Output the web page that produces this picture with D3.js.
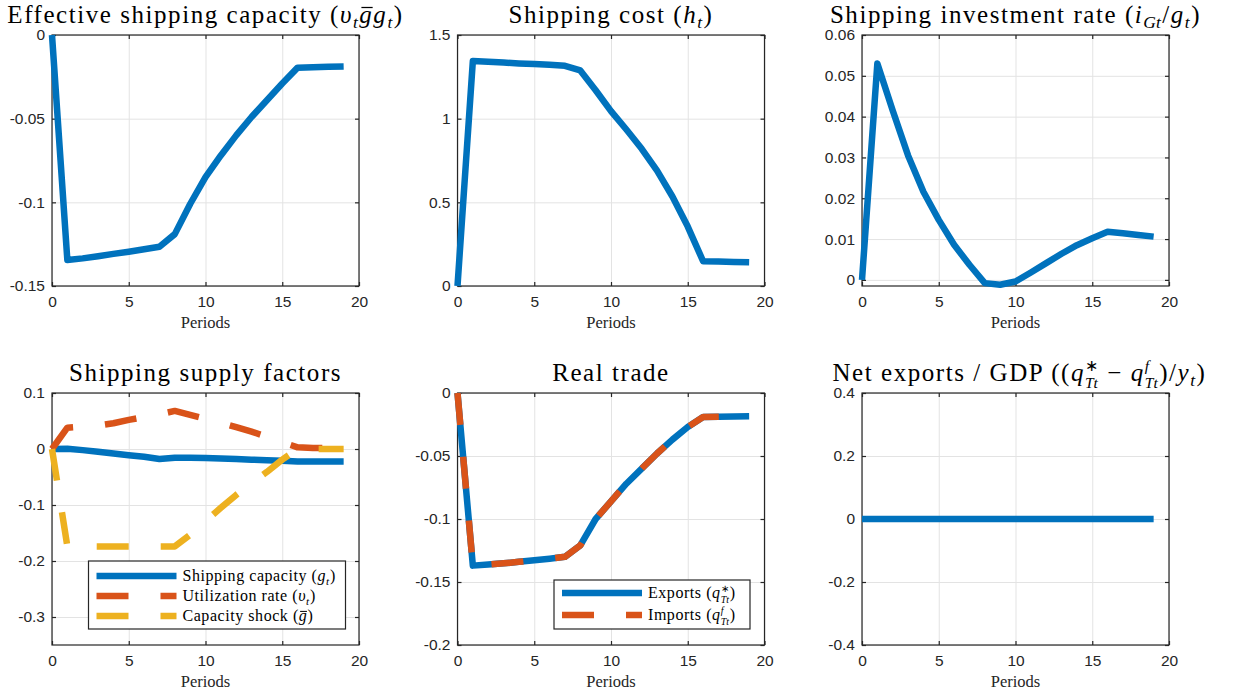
<!DOCTYPE html>
<html><head><meta charset="utf-8">
<script src="https://cdn.jsdelivr.net/npm/d3@7"></script>
<style>body{margin:0;background:#fff} svg{display:block} text{white-space:pre}</style>
</head><body>
<svg id="c" width="1233" height="696"></svg>
<script>
// ---------- data ----------
const periods = [0,1,2,3,4,5,6,7,8,9,10,11,12,13,14,15,16,17,18,19];
const xTicks = [0,5,10,15,20];

const effCapacity = [0,-0.1345,-0.1335,-0.1322,-0.1308,-0.1295,-0.128,-0.1265,-0.119,-0.101,-0.085,-0.072,-0.060,-0.049,-0.039,-0.029,-0.0195,-0.0193,-0.019,-0.0188];
const shippingCost = [0,1.345,1.34,1.335,1.33,1.326,1.322,1.316,1.288,1.17,1.045,0.935,0.82,0.69,0.535,0.355,0.148,0.146,0.144,0.142];
const investRate = [0,0.053,0.0415,0.0305,0.0216,0.0147,0.0086,0.0037,-0.0008,-0.0012,-0.0004,0.0018,0.0041,0.0064,0.0085,0.0102,0.0118,0.0114,0.011,0.0106];
const capacityG = [0,0.0005,-0.002,-0.005,-0.008,-0.011,-0.014,-0.018,-0.0155,-0.0155,-0.016,-0.017,-0.018,-0.019,-0.020,-0.021,-0.0225,-0.0225,-0.0225,-0.0225];
const utilization = [0,0.038,0.040,0.042,0.046,0.052,0.057,0.062,0.068,0.061,0.054,0.047,0.039,0.031,0.022,0.012,0.003,0.002,0.0015,0.001];
const capacityShock = [0,-0.174,-0.174,-0.174,-0.174,-0.174,-0.174,-0.174,-0.174,-0.153,-0.129,-0.105,-0.082,-0.061,-0.041,-0.019,0,0,0,0];
const exportsQ = [0,-0.137,-0.1362,-0.1352,-0.134,-0.1328,-0.1315,-0.130,-0.121,-0.100,-0.086,-0.072,-0.060,-0.048,-0.037,-0.027,-0.019,-0.0188,-0.0186,-0.0185];
const importsQ = [0,-0.137,-0.1362,-0.1352,-0.134,-0.1328,-0.1315,-0.130,-0.121,-0.100,-0.086,-0.072,-0.060,-0.048,-0.037,-0.027,-0.019,-0.0188,-0.0186,-0.0185];
const netExports = [0,0,0,0,0,0,0,0,0,0,0,0,0,0,0,0,0,0,0,0];

const yTicks1 = [-0.15,-0.1,-0.05,0];
const yTicks2 = [0,0.5,1,1.5];
const yTicks3 = [0,0.01,0.02,0.03,0.04,0.05,0.06];
const yTicks4 = [-0.3,-0.2,-0.1,0,0.1];
const yTicks5 = [-0.2,-0.15,-0.1,-0.05,0];
const yTicks6 = [-0.4,-0.2,0,0.2,0.4];

const BLUE = "#0072BD", ORANGE = "#D95319", YELLOW = "#EDB120";
const SERIF = "'Liberation Serif', 'Times New Roman', serif";
const SANS = "'Liberation Sans', Arial, Helvetica, sans-serif";

// ---------- helpers ----------
const svg = d3.select("#c");

function mathText(parent, segs, x, y, size, anchor, ls) {
  const g = parent.append("g").style("font-family", SERIF).attr("fill", "#000");
  let cx = 0;
  const lsp = ls || 0;
  segs.forEach(s => {
    if (s.sup !== undefined || s.sub !== undefined) {
      const both = s.sup !== undefined && s.sub !== undefined;
      const fs = size * (both ? 0.62 : 0.7);
      let w = 0;
      if (s.sup !== undefined) {
        const t = g.append("text").attr("x", cx).attr("y", -size * 0.40)
          .style("font-size", fs + "px").style("font-style", s.supIt ? "italic" : "normal").text(s.sup);
        w = Math.max(w, t.node().getComputedTextLength());
      }
      if (s.sub !== undefined) {
        const t = g.append("text").attr("x", cx).attr("y", size * (both ? 0.30 : 0.22))
          .style("font-size", fs + "px").style("font-style", "italic").text(s.sub);
        w = Math.max(w, t.node().getComputedTextLength());
      }
      cx += w + size * 0.06;
    } else {
      const t = g.append("text").attr("x", cx).attr("y", 0)
        .style("font-size", size + "px").style("letter-spacing", lsp + "px")
        .style("font-style", s.it ? "italic" : "normal").text(s.t);
      const w = t.node().getComputedTextLength();
      if (s.over) {
        g.append("line").attr("x1", cx + w * 0.15).attr("x2", cx + w * 0.95)
          .attr("y1", -size * 0.6).attr("y2", -size * 0.6)
          .attr("stroke", "#000").attr("stroke-width", Math.max(1, size * 0.05));
      }
      cx += w;
    }
  });
  const shift = anchor === "middle" ? -cx / 2 : 0;
  g.attr("transform", `translate(${x + shift},${y})`);
  return g;
}

const fmt = d => (+d.toFixed(4)).toString();

const cols = [52, 457.5, 862];
const W = 307;
const rows = [{top: 35, bottom: 286}, {top: 393, bottom: 645}];

function panel(cfg) {
  const left = cols[cfg.col], right = left + W;
  const top = rows[cfg.row].top, bottom = rows[cfg.row].bottom;
  const x = d3.scaleLinear().domain([0, 20]).range([left, right]);
  const y = d3.scaleLinear().domain(cfg.yDomain).range([bottom, top]);
  const g = svg.append("g");

  // grid
  g.append("g").attr("transform", `translate(0,${bottom})`)
    .call(d3.axisBottom(x).tickValues(xTicks).tickSize(-(bottom - top)).tickFormat(""))
    .call(a => a.select(".domain").remove())
    .call(a => a.selectAll("line").attr("stroke", "#e3e3e3").attr("stroke-width", 1));
  g.append("g").attr("transform", `translate(${left},0)`)
    .call(d3.axisLeft(y).tickValues(cfg.yTicks).tickSize(-(right - left)).tickFormat(""))
    .call(a => a.select(".domain").remove())
    .call(a => a.selectAll("line").attr("stroke", "#e3e3e3").attr("stroke-width", 1));

  // box
  g.append("rect").attr("x", left).attr("y", top).attr("width", right - left).attr("height", bottom - top)
    .attr("fill", "none").attr("stroke", "#262626").attr("stroke-width", 1.2);

  // ticks + labels
  const styleAx = a => {
    a.select(".domain").remove();
    a.selectAll("line").attr("stroke", "#262626").attr("stroke-width", 1.2);
    a.selectAll("text").attr("fill", "#262626").style("font-family", SANS).style("font-size", "15.5px");
  };
  g.append("g").attr("transform", `translate(0,${bottom})`)
    .call(d3.axisBottom(x).tickValues(xTicks).tickSize(-4).tickPadding(10).tickFormat(fmt)).call(styleAx);
  g.append("g").attr("transform", `translate(0,${top})`)
    .call(d3.axisTop(x).tickValues(xTicks).tickSize(-4).tickFormat("")).call(styleAx);
  g.append("g").attr("transform", `translate(${left},0)`)
    .call(d3.axisLeft(y).tickValues(cfg.yTicks).tickSize(-4).tickPadding(7).tickFormat(fmt)).call(styleAx);
  g.append("g").attr("transform", `translate(${right},0)`)
    .call(d3.axisRight(y).tickValues(cfg.yTicks).tickSize(-4).tickFormat("")).call(styleAx);

  // series
  cfg.series.forEach(s => {
    const line = d3.line().x((d, i) => x(periods[i])).y(d => y(d));
    g.append("path").datum(s.vals).attr("d", line)
      .attr("fill", "none").attr("stroke", s.color).attr("stroke-width", 6.5)
      .attr("stroke-linejoin", "round").attr("stroke-linecap", "butt")
      .attr("stroke-dasharray", s.dash ? "32,32" : null);
  });

  // x label
  g.append("text").attr("x", (left + right) / 2).attr("y", bottom + 42).attr("text-anchor", "middle")
    .style("font-family", SERIF).style("font-size", "16.5px").attr("fill", "#262626").text("Periods");

  // title
  mathText(g, cfg.title, (left + right) / 2 + (cfg.titleDx || 0), top - 12.5, 25, "middle", 1.55);

  // legend
  if (cfg.legend) {
    const L = cfg.legend;
    g.append("rect").attr("x", L.x).attr("y", L.y).attr("width", L.w).attr("height", L.h)
      .attr("fill", "#fff").attr("stroke", "#262626").attr("stroke-width", 1.2);
    L.items.forEach((it, i) => {
      const yy = L.y + L.first + i * L.step;
      g.append("line").attr("x1", L.x + 8).attr("x2", L.x + 88).attr("y1", yy).attr("y2", yy)
        .attr("stroke", it.color).attr("stroke-width", 6.5)
        .attr("stroke-dasharray", it.dash ? "32,32" : null);
      mathText(g, it.label, L.x + 94, yy + 5, 16, "start", 0.55);
    });
  }
}

// ---------- panels ----------
panel({col: 0, row: 0, yDomain: [-0.15, 0], yTicks: yTicks1,
  title: [{t: "Effective shipping capacity ("}, {t: "υ", it: true}, {sub: "t"}, {t: "g", it: true, over: true}, {t: "g", it: true}, {sub: "t"}, {t: ")"}],
  series: [{vals: effCapacity, color: BLUE}]});

panel({col: 1, row: 0, yDomain: [0, 1.5], yTicks: yTicks2,
  title: [{t: "Shipping cost ("}, {t: "h", it: true}, {sub: "t"}, {t: ")"}],
  series: [{vals: shippingCost, color: BLUE}]});

panel({col: 2, row: 0, yDomain: [-0.0015, 0.06], yTicks: yTicks3,
  title: [{t: "Shipping investment rate ("}, {t: "i", it: true}, {sub: "Gt"}, {t: "/"}, {t: "g", it: true}, {sub: "t"}, {t: ")"}],
  series: [{vals: investRate, color: BLUE}]});

panel({col: 0, row: 1, yDomain: [-0.35, 0.1], yTicks: yTicks4,
  title: [{t: "Shipping supply factors"}],
  series: [{vals: capacityG, color: BLUE}, {vals: utilization, color: ORANGE, dash: true}, {vals: capacityShock, color: YELLOW, dash: true}],
  legend: {x: 88.5, y: 561, w: 257, h: 68, first: 15, step: 20, items: [
    {color: BLUE, label: [{t: "Shipping capacity ("}, {t: "g", it: true}, {sub: "t"}, {t: ")"}]},
    {color: ORANGE, dash: true, label: [{t: "Utilization rate ("}, {t: "υ", it: true}, {sub: "t"}, {t: ")"}]},
    {color: YELLOW, dash: true, label: [{t: "Capacity shock ("}, {t: "g", it: true, over: true}, {t: ")"}]}
  ]}});

panel({col: 1, row: 1, yDomain: [-0.2, 0], yTicks: yTicks5,
  title: [{t: "Real trade"}],
  series: [{vals: exportsQ, color: BLUE}, {vals: importsQ, color: ORANGE, dash: true}],
  legend: {x: 554, y: 580, w: 196, h: 49, first: 13, step: 22, items: [
    {color: BLUE, label: [{t: "Exports ("}, {t: "q", it: true}, {sup: "∗", sub: "Tt"}, {t: ")"}]},
    {color: ORANGE, dash: true, label: [{t: "Imports ("}, {t: "q", it: true}, {sup: "f", supIt: true, sub: "Tt"}, {t: ")"}]}
  ]}});

panel({col: 2, row: 1, yDomain: [-0.4, 0.4], yTicks: yTicks6, titleDx: 4,
  title: [{t: "Net exports / GDP (("}, {t: "q", it: true}, {sup: "∗", sub: "Tt"}, {t: " − "}, {t: "q", it: true}, {sup: "f", supIt: true, sub: "Tt"}, {t: ")/"}, {t: "y", it: true}, {sub: "t"}, {t: ")"}],
  series: [{vals: netExports, color: BLUE}]});
</script>
</body></html>
